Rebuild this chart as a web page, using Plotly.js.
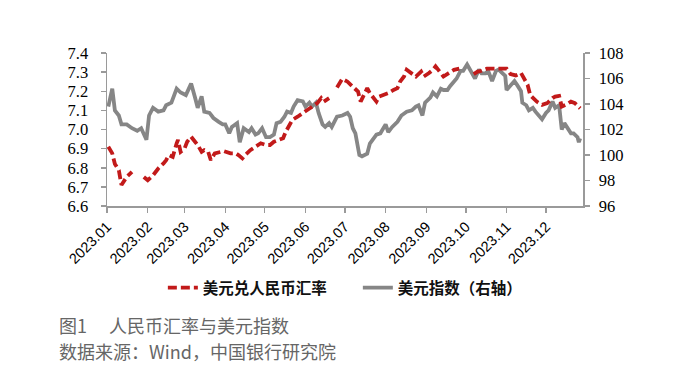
<!DOCTYPE html>
<html>
<head>
<meta charset="utf-8">
<script src="https://cdn.plot.ly/plotly-3.0.1.min.js"></script>
<style>html,body{margin:0;padding:0;background:#fff;}#chart{width:678px;height:386px;}</style>
</head>
<body>
<div id="chart"></div>
<script>
// 美元兑人民币汇率 (left axis)
const cnyDates = [
 '2023-01-02','2023-01-05','2023-01-07','2023-01-10','2023-01-12','2023-01-16','2023-01-20','2023-01-25','2023-01-29',
 '2023-02-01','2023-02-05','2023-02-09','2023-02-13','2023-02-15','2023-02-17','2023-02-20','2023-02-23','2023-02-24','2023-02-26',
 '2023-03-01','2023-03-03','2023-03-06','2023-03-09','2023-03-11','2023-03-14','2023-03-16','2023-03-19','2023-03-21','2023-03-24','2023-03-28','2023-03-31',
 '2023-04-05','2023-04-09','2023-04-11','2023-04-14','2023-04-16','2023-04-20','2023-04-24','2023-04-28',
 '2023-05-02','2023-05-05','2023-05-08','2023-05-12','2023-05-15','2023-05-17','2023-05-20','2023-05-22','2023-05-26','2023-05-30',
 '2023-06-02','2023-06-06','2023-06-10','2023-06-13','2023-06-15','2023-06-19','2023-06-22','2023-06-25','2023-06-29',
 '2023-07-03','2023-07-04','2023-07-08','2023-07-11','2023-07-13','2023-07-16','2023-07-18','2023-07-20','2023-07-25','2023-07-27','2023-07-31',
 '2023-08-03','2023-08-07','2023-08-10','2023-08-12','2023-08-15','2023-08-17','2023-08-20','2023-08-24','2023-08-28','2023-08-30',
 '2023-09-03','2023-09-06','2023-09-08','2023-09-11','2023-09-14','2023-09-18','2023-09-22','2023-09-26',
 '2023-10-02','2023-10-07','2023-10-10','2023-10-13','2023-10-17','2023-10-21','2023-10-25','2023-10-29',
 '2023-11-01','2023-11-04','2023-11-08','2023-11-12','2023-11-14','2023-11-17','2023-11-19','2023-11-22','2023-11-24','2023-11-28',
 '2023-12-02','2023-12-06','2023-12-08','2023-12-11','2023-12-13','2023-12-16','2023-12-20','2023-12-23','2023-12-27'
];
const cnyValues = [
 6.91,6.875,6.82,6.787,6.71,6.752,6.778,null,6.752,
 6.735,6.76,6.796,6.823,6.84,6.866,6.857,6.928,6.945,6.883,
 6.90,6.936,6.962,6.936,6.919,6.883,6.892,6.883,6.84,6.875,6.883,6.887,
 6.875,6.875,6.866,6.849,6.866,6.892,6.91,6.928,
 6.919,6.919,6.936,6.945,6.954,6.988,7.024,7.05,7.067,7.085,
 7.10,7.12,7.138,7.164,7.146,7.164,null,7.22,7.265,
 7.25,7.243,7.216,7.198,7.146,7.19,7.216,7.19,7.146,7.172,7.18,
 7.19,7.207,7.216,7.25,7.277,7.312,7.295,7.277,7.303,7.277,
 7.295,7.312,7.33,7.303,7.277,7.295,7.312,7.318,
 null,7.29,7.303,7.307,7.318,7.318,7.318,7.32,
 7.318,7.29,7.283,7.295,7.268,7.234,7.18,7.155,7.146,7.129,
 7.138,7.164,7.172,7.176,7.12,7.129,7.146,7.138,7.111
];

// 美元指数 (right axis)
const dxyDates = [
 '2023-01-02','2023-01-05','2023-01-07','2023-01-10','2023-01-12','2023-01-16','2023-01-20','2023-01-24','2023-01-27','2023-01-31',
 '2023-02-02','2023-02-05','2023-02-09','2023-02-13','2023-02-15','2023-02-19','2023-02-23','2023-02-26',
 '2023-03-02','2023-03-06','2023-03-09','2023-03-11','2023-03-14','2023-03-16','2023-03-20','2023-03-23','2023-03-27','2023-03-30',
 '2023-04-01','2023-04-04','2023-04-06','2023-04-10','2023-04-12','2023-04-15','2023-04-19','2023-04-21','2023-04-24','2023-04-26','2023-04-29',
 '2023-05-02','2023-05-05','2023-05-08','2023-05-10','2023-05-13','2023-05-16','2023-05-18','2023-05-21','2023-05-23','2023-05-26','2023-05-30',
 '2023-06-01','2023-06-04','2023-06-06','2023-06-09','2023-06-11','2023-06-14','2023-06-16','2023-06-19','2023-06-21','2023-06-25','2023-06-29',
 '2023-07-03','2023-07-05','2023-07-07','2023-07-09','2023-07-12','2023-07-14','2023-07-18','2023-07-20','2023-07-23','2023-07-25','2023-07-28',
 '2023-08-01','2023-08-03','2023-08-06','2023-08-10','2023-08-13','2023-08-17','2023-08-21','2023-08-24','2023-08-26','2023-08-29','2023-08-31',
 '2023-09-04','2023-09-06','2023-09-09','2023-09-12','2023-09-14','2023-09-17','2023-09-19','2023-09-22','2023-09-24','2023-09-27','2023-09-29',
 '2023-10-02','2023-10-04','2023-10-07','2023-10-08','2023-10-11','2023-10-13','2023-10-16','2023-10-18','2023-10-21','2023-10-24','2023-10-26','2023-10-29','2023-10-31',
 '2023-11-01','2023-11-04','2023-11-07','2023-11-09','2023-11-12','2023-11-13','2023-11-16','2023-11-18','2023-11-21','2023-11-23','2023-11-26','2023-11-28',
 '2023-12-01','2023-12-03','2023-12-06','2023-12-08','2023-12-11','2023-12-13','2023-12-15','2023-12-17','2023-12-20','2023-12-22','2023-12-25','2023-12-26','2023-12-27'
];
const dxyValues = [
 103.8,105.2,103.5,103.1,102.4,102.4,102.1,101.9,102.1,101.2,
 103.1,103.7,103.4,103.5,103.9,104.1,105.2,104.9,
 104.7,105.6,104.5,103.7,104.6,103.4,103.3,102.9,102.6,102.4,
 102.4,101.7,102.2,102.5,101.0,102.1,101.8,102.1,101.6,101.7,102.1,
 101.4,101.4,101.6,102.5,102.6,103.0,103.4,103.3,103.8,104.3,104.2,
 103.8,104.1,103.8,104.1,103.3,102.4,102.2,102.5,102.2,103.0,103.1,
 103.3,103.0,102.1,101.7,100.0,99.9,100.1,100.9,101.4,101.6,101.7,
 102.4,101.8,102.2,102.6,103.1,103.4,103.5,103.8,103.9,103.1,104.1,
 104.5,104.9,104.6,105.2,105.1,105.1,105.4,105.8,106.0,106.6,106.6,
 107.1,106.7,106.2,106.0,106.7,106.4,106.4,106.6,105.8,106.6,106.7,106.4,106.2,
 105.1,105.5,105.8,105.5,105.0,104.1,103.9,103.5,103.7,103.4,103.1,102.8,
 103.3,103.5,104.2,103.7,103.9,102.0,102.5,102.2,101.7,101.7,101.4,101.0,101.3
];

const monthTicks = ['2023-01-01','2023-02-01','2023-03-01','2023-04-01','2023-05-01','2023-06-01','2023-07-01','2023-08-01','2023-09-01','2023-10-01','2023-11-01','2023-12-01'];
const monthLabels = ['2023.01','2023.02','2023.03','2023.04','2023.05','2023.06','2023.07','2023.08','2023.09','2023.10','2023.11','2023.12'];
const seriesNames = ['美元兑人民币汇率','美元指数（右轴）'];

const axisColor = '#9a9a9a';
const traces = [
 {x: cnyDates, y: cnyValues, name: seriesNames[0], type: 'scatter', mode: 'lines', yaxis: 'y2',
  connectgaps: false, line: {color: '#C21A1A', width: 3.8, dash: '9px,4px'}},
 {x: dxyDates, y: dxyValues, name: seriesNames[1], type: 'scatter', mode: 'lines', yaxis: 'y',
  line: {color: '#868686', width: 3.8}}
];

const layout = {
 width: 678, height: 386,
 margin: {l: 107, r: 95, t: 53, b: 180},
 paper_bgcolor: '#fff', plot_bgcolor: '#fff',
 showlegend: true,
 legend: {orientation: 'h', x: 0.527, xanchor: 'center', y: -0.536, yanchor: 'middle',
  font: {family: 'Noto Sans CJK SC', size: 15.5, color: '#111', weight: 'bold'},
  itemwidth: 30, traceorder: 'normal', entrywidth: 150},
 xaxis: {type: 'date', range: ['2023-01-01', '2023-12-29 04:00'],
  tickmode: 'array', tickvals: monthTicks, ticktext: monthLabels, tickangle: -45,
  showgrid: false, zeroline: false, showline: true, linecolor: axisColor, linewidth: 1.5,
  ticks: 'outside', ticklen: 5, tickcolor: axisColor, tickwidth: 1.5,
  tickfont: {family: 'Liberation Sans', size: 14.5, color: '#000'}},
 yaxis: {side: 'right', range: [96, 108], dtick: 2, tick0: 96,
  showgrid: false, zeroline: false, showline: true, linecolor: axisColor, linewidth: 1.5,
  ticks: 'outside', ticklen: 5, tickcolor: axisColor, tickwidth: 1.5, ticklabelstandoff: 6,
  tickfont: {family: 'Liberation Serif', size: 16.5, color: '#000'}},
 yaxis2: {overlaying: 'y', side: 'left', range: [6.6, 7.4], dtick: 0.1, tick0: 6.6, tickformat: '.1f',
  showgrid: false, zeroline: false, showline: true, linecolor: axisColor, linewidth: 1.5,
  ticks: 'outside', ticklen: 5, tickcolor: axisColor, tickwidth: 1.5, ticklabelstandoff: 9,
  tickfont: {family: 'Liberation Serif', size: 16.5, color: '#000'}},
 annotations: [
  {text: '图1　 人民币汇率与美元指数', xref: 'paper', yref: 'paper', x: -0.105, y: (206 - 325) / 153,
   xanchor: 'left', yanchor: 'middle', showarrow: false,
   font: {family: 'Noto Sans CJK SC', size: 18, color: '#666'}},
  {text: '数据来源：Wind，中国银行研究院', xref: 'paper', yref: 'paper', x: -0.105, y: (206 - 351) / 153,
   xanchor: 'left', yanchor: 'middle', showarrow: false,
   font: {family: 'Noto Sans CJK SC', size: 18, color: '#666'}}
 ]
};

Plotly.newPlot('chart', traces, layout, {displayModeBar: false, staticPlot: true});
</script>
</body>
</html>
